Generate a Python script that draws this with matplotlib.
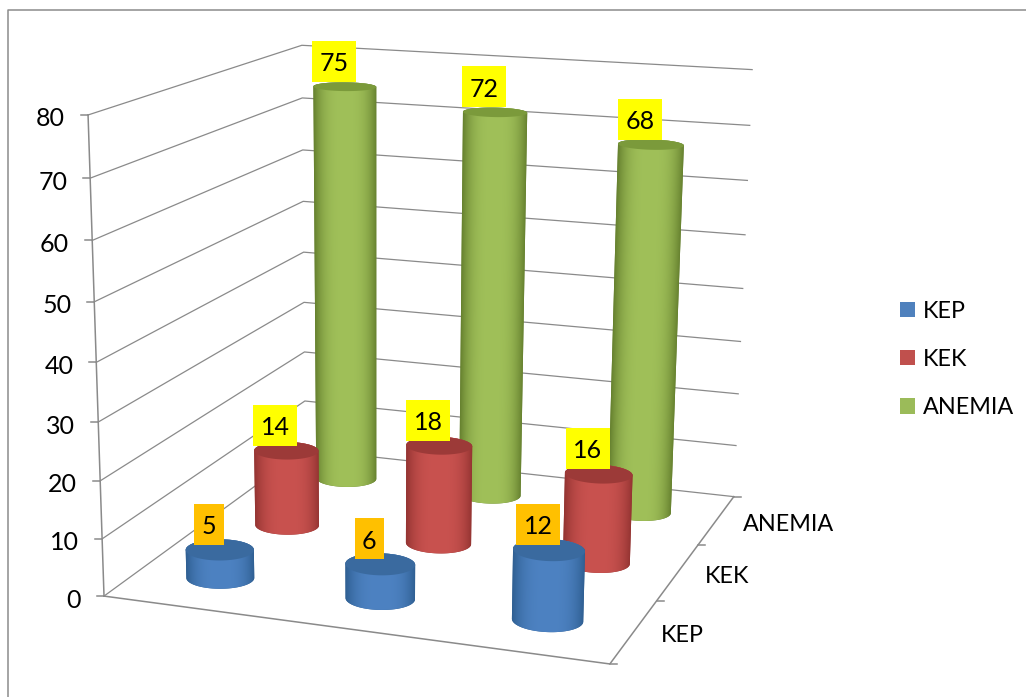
import numpy as np
import matplotlib
matplotlib.use("Agg")
import matplotlib.pyplot as plt
from matplotlib.patches import Patch, Polygon, Rectangle

plt.rcParams['font.family'] = ['Lato', 'DejaVu Sans']

# data
series_names = ['KEP', 'KEK', 'ANEMIA']
kep = [5, 6, 12]
kek = [14, 18, 16]
anemia = [75, 72, 68]
y_ticks = [0, 10, 20, 30, 40, 50, 60, 70, 80]
y_max = 80

# colours (front colour, edge colour, cap colour)
colors = {
    'KEP': ('#4d82c2', '#2f5f92', '#3a6a9f'),
    'KEK': ('#c9524f', '#943432', '#9c3a38'),
    'ANEMIA': ('#a0c059', '#66812f', '#7b9a3b'),
}
legend_colors = ['#4f81bd', '#c0504d', '#9bbb59']
label_colors = {'KEP': '#ffc000', 'KEK': '#ffff00', 'ANEMIA': '#ffff00'}
grid_col = '#8a8a8a'

# camera: box corners (x, depth, height) and where they land on the picture
box = np.array([[0, 0, 0], [0, 0, 1], [0, 1, 0], [0, 1, 1],
                [1, 1, 0], [1, 1, 1], [1, 0, 0]], dtype=float)
screen = np.array([[103, 596], [88, 116], [306, 449], [302, 45],
                   [733, 498], [752, 69], [611, 663]], dtype=float)


def fit_camera(world, img):
    rows, rhs = [], []
    for (a, b, c), (u, v) in zip(world, img):
        rows.append([a, b, c, 1, 0, 0, 0, 0, -u * a, -u * b, -u * c])
        rows.append([0, 0, 0, 0, a, b, c, 1, -v * a, -v * b, -v * c])
        rhs += [u, v]
    p = np.linalg.lstsq(np.array(rows), np.array(rhs), rcond=None)[0]
    return np.append(p, 1).reshape(3, 4)


cam = fit_camera(box, screen)


def proj(x, d, val):
    x, d, val = np.broadcast_arrays(np.asarray(x, float), np.asarray(d, float), np.asarray(val, float))
    pts = np.stack([x, d, val / y_max, np.ones_like(x)])
    w = cam @ pts.reshape(4, -1)
    return (w[0] / w[2]).reshape(x.shape), (w[1] / w[2]).reshape(x.shape)


def hull(xs, ys):
    pts = sorted(set(zip(xs.tolist(), ys.tolist())))

    def half(points):
        out = []
        for p in points:
            while len(out) > 1 and ((out[-1][0] - out[-2][0]) * (p[1] - out[-2][1])
                                    - (out[-1][1] - out[-2][1]) * (p[0] - out[-2][0])) <= 0:
                out.pop()
            out.append(p)
        return out[:-1]

    return np.array(half(pts) + half(pts[::-1]))


def cylinder(ax, x0, d0, val, name, rx=0.067, rd=0.06, n=160):
    front, edge, cap = colors[name]
    t = np.linspace(0, 2 * np.pi, n + 1)
    cx = x0 + rx * np.cos(t)
    cd = d0 + rd * np.sin(t)
    bx, by = proj(cx, cd, 0)
    tx, ty = proj(cx, cd, val)
    outline = hull(np.concatenate([bx, tx]), np.concatenate([by, ty]))
    ax.fill(outline[:, 0], outline[:, 1], facecolor=edge, edgecolor='none', zorder=3)

    # side shading: a gradient across the width, cut to the outline
    left, right = int(outline[:, 0].min()) - 1, int(outline[:, 0].max()) + 2
    top, bottom = int(outline[:, 1].min()) - 1, int(outline[:, 1].max()) + 2
    gx, gy = np.meshgrid(np.arange(left, right) + 0.5, np.arange(top, bottom) + 0.5)
    f = (gy - ty.mean()) / (by.mean() - ty.mean())
    mid = tx.mean() + f * (bx.mean() - tx.mean())
    half_w = np.ptp(tx) / 2 + f * (np.ptp(bx) - np.ptp(tx)) / 2
    u = np.clip(np.abs(gx - mid) / half_w, 0, 1)[..., None] ** 3
    rgb = np.array(matplotlib.colors.to_rgb(front)) * (1 - u) + np.array(matplotlib.colors.to_rgb(edge)) * u
    im = ax.imshow(rgb, extent=(left, right, bottom, top), origin='upper', aspect='auto',
                   interpolation='nearest', zorder=3)
    im.set_clip_path(Polygon(outline, closed=True, transform=ax.transData))
    ax.fill(tx, ty, facecolor=cap, edgecolor='none', zorder=3)


fig = plt.figure(figsize=(10.26, 6.97), dpi=100)
ax = fig.add_axes([0, 0, 1, 1])
ax.axis('off')

# chart border
ax.plot([8, 8, 1026], [697, 10, 10], color='#8c8c8c', lw=1.1, zorder=1)

# walls
for v in y_ticks:
    xs, ys = proj([0, 0, 1], [0, 1, 1], v)
    ax.plot(xs, ys, color=grid_col, lw=0.9, zorder=2)
    px, py = proj(0, 0, v)
    ax.plot([px - 7, px], [py, py], color=grid_col, lw=1.1, zorder=2)
    ax.text(px - 23, py + 4, str(v), ha='right', va='center', fontsize=18, color='black')

xs, ys = proj([0, 0], [0, 0], [0, y_max])
ax.plot(xs, ys, color=grid_col, lw=1.1, zorder=2)
xs, ys = proj([0, 1, 1], [0, 0, 1], 0)
ax.plot(xs, ys, color=grid_col, lw=1.1, zorder=2)

# depth axis ticks and names
for k in range(4):
    px, py = proj(1, k / 3, 0)
    ax.plot([px, px + 7], [py, py], color=grid_col, lw=1.1, zorder=2)
for k, name in enumerate(series_names):
    px, py = proj(1, (k + 0.5) / 3, 0)
    ax.text(px + 27, py + 4, name, ha='left', va='center', fontsize=16.8, color='black')

# cylinders, back row first
series_values = [kep, kek, anemia]
for k in [2, 1, 0]:
    name = series_names[k]
    for j, val in enumerate(series_values[k]):
        x0 = (j + 0.5) / 3
        d0 = (k + 0.5) / 3
        cylinder(ax, x0, d0, val, name)
        tx, ty = proj(x0, d0, val)
        label = str(val)
        w = 15 + 14.5 * len(label)
        ax.add_patch(Rectangle((tx - 11 - w / 2, ty - 5 - 41), w, 41, facecolor=label_colors[name], lw=0, zorder=5))
        ax.text(tx - 11, ty - 5 - 18, label, ha='center', va='center', fontsize=18, color='black', zorder=6)

handles = [Patch(facecolor=c, edgecolor='none') for c in legend_colors]
ax.legend(handles, series_names, loc='center left', bbox_to_anchor=(0.877, 0.4845), frameon=False,
          fontsize=16.8, handlelength=0.64, handleheight=0.64, handletextpad=0.34, labelspacing=1.17,
          borderpad=0, borderaxespad=0)

ax.set_xlim(0, 1026)
ax.set_ylim(697, 0)
fig.savefig('out.png', dpi=100)
